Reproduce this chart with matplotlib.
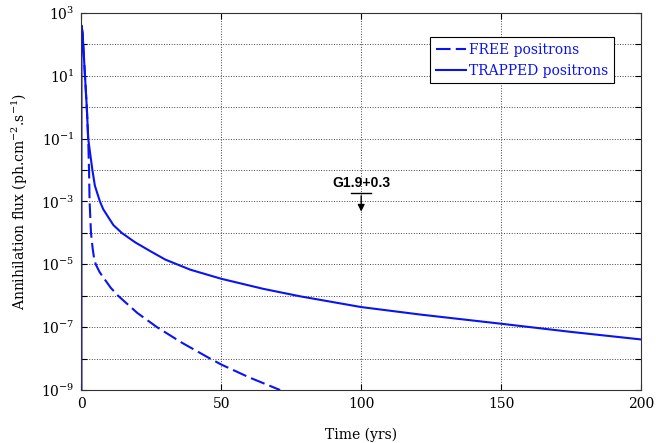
import numpy as np
import matplotlib
matplotlib.use("Agg")
import matplotlib.pyplot as plt

# values (time in yrs, log10 of flux)
t_trapped = [0, 0, 0.4, 1.25, 1.9, 2.4, 3.9, 4.8, 6.6, 7.8, 9.6, 11.4, 14.4, 19.2, 25,
             30, 38.9, 50, 65, 78.3, 100, 121.3, 150, 175, 200]
log_trapped = [-12, 2.6, 2.36, 1.0, 0.0, -1.0, -2.0, -2.5, -3.0, -3.25, -3.5, -3.75, -4.0, -4.3, -4.6,
               -4.85, -5.17, -5.46, -5.78, -6.02, -6.36, -6.6, -6.89, -7.15, -7.39]

t_free = [0, 0.4, 1.25, 1.9, 2.4, 2.7, 2.9, 3.4, 4.0, 4.5, 5.1, 6.5, 8.4, 10.5, 13.1, 20, 27,
          36, 46, 50, 60, 71]
log_free = [2.6, 2.36, 1.0, 0.0, -1.0, -2.0, -3.0, -4.0, -4.5, -4.8, -5.0, -5.25, -5.49, -5.75, -6.0,
            -6.55, -7.0, -7.5, -8.0, -8.19, -8.6, -9.0]

source_name = "G1.9+0.3"
source_t = 100
source_limit = 10 ** -2.73

blue = "#0a14f0"

plt.rcParams["font.family"] = ["DejaVu Serif"]
plt.rcParams["mathtext.fontset"] = "dejavuserif"

fig = plt.figure(figsize=(6.56, 4.43), dpi=100)
ax = fig.add_axes([0.1242, 0.1196, 0.8528, 0.8511])

ax.semilogy(t_free, 10 ** np.array(log_free), color=blue, lw=1.5,
            dashes=(7, 2.5), label="FREE positrons")
ax.semilogy(t_trapped, 10 ** np.array(log_trapped), color=blue, lw=1.5,
            label="TRAPPED positrons")

ax.set_xlim(0, 200)
ax.set_ylim(1e-9, 1e3)
ax.set_xticks([0, 50, 100, 150, 200])
decades = np.arange(-9, 4)
ax.set_yticks(10.0 ** decades)
ax.set_yticklabels([f"$10^{{{d}}}$" if d % 2 else "" for d in decades])
ax.yaxis.set_minor_locator(matplotlib.ticker.NullLocator())
ax.tick_params(direction="in", length=4, top=True, right=True, labelsize=10, pad=5)
ax.grid(True, color="#444444", linestyle=":", linewidth=0.7)
for sp in ax.spines.values():
    sp.set_color("#333333")

ax.set_xlabel("Time (yrs)", fontsize=10, labelpad=12)
ax.set_ylabel("Annihilation flux (ph.cm$^{-2}$.s$^{-1}$)", fontsize=10, labelpad=8)

# upper limit marker for the source
ax.plot([source_t - 3.5, source_t + 3.5], [source_limit, source_limit], color="k", lw=1)
ax.annotate("", xy=(source_t, source_limit / 10 ** 0.68), xytext=(source_t, source_limit),
            arrowprops=dict(arrowstyle="-|>", color="k", lw=1, mutation_scale=10))
ax.text(source_t, source_limit * 10 ** 0.33, source_name, ha="center", va="center",
        fontsize=10, fontweight="bold", family="Liberation Sans")

leg = ax.legend(loc="upper right", bbox_to_anchor=(0.952, 0.936), borderaxespad=0,
                fancybox=False, edgecolor="k", framealpha=1, fontsize=10,
                handlelength=2.2, handletextpad=0.2, borderpad=0.4, labelspacing=0.5)
leg.get_frame().set_linewidth(0.8)
for txt in leg.get_texts():
    txt.set_color(blue)

fig.savefig("out.png", dpi=100)
